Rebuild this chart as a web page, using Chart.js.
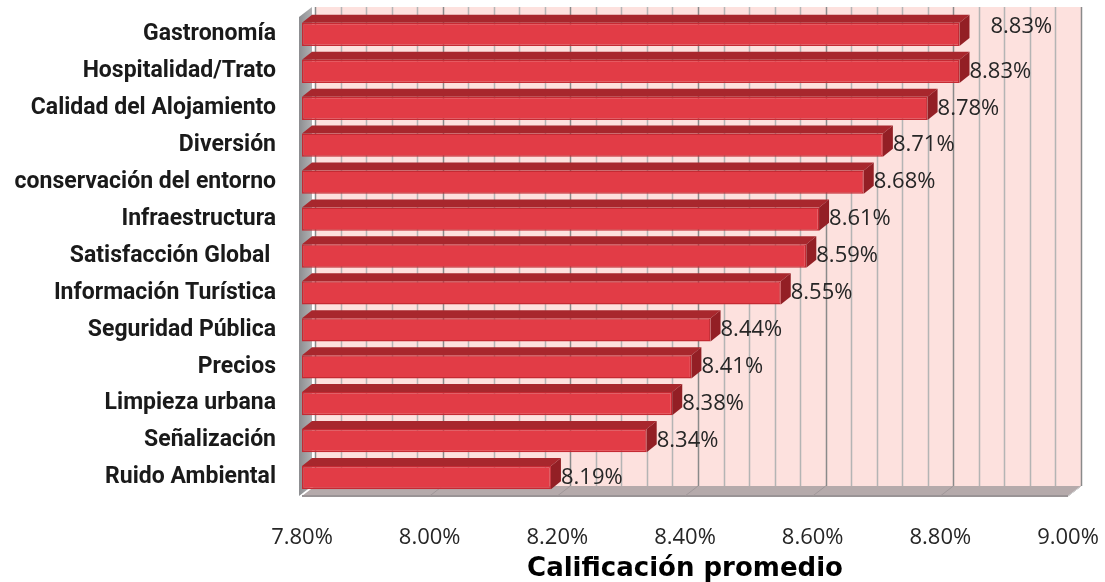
<!DOCTYPE html>
<html>
<head>
<meta charset="utf-8">
<script src="https://cdn.jsdelivr.net/npm/chart.js@4"></script>
<style>
  body { margin: 0; background: #fff; }
  #wrap { width: 1105px; height: 582px; position: relative; }
</style>
</head>
<body>
<div id="wrap"><canvas id="chart"></canvas></div>
<script>
const categories = [
    'Gastronomía', 'Hospitalidad/Trato', 'Calidad del Alojamiento', 'Diversión',
    'conservación del entorno', 'Infraestructura', 'Satisfacción Global ',
    'Información Turística', 'Seguridad Pública', 'Precios', 'Limpieza urbana',
    'Señalización', 'Ruido Ambiental'
];
const scores = [8.83, 8.83, 8.78, 8.71, 8.68, 8.61, 8.59, 8.55, 8.44, 8.41, 8.38, 8.34, 8.19];
const axisMin = 7.8;
const axisMax = 9.0;
const axisStep = 0.2;
const minorStep = 0.04;

// depth of the 3d look
const wallDX = 13, wallDY = -10;
const barDX = 10, barDY = -8;

const depthPlugin = {
    id: 'depth',
    beforeDatasetsDraw(chart) {
        const ctx = chart.ctx;
        const a = chart.chartArea;
        const x = chart.scales.x;
        ctx.save();
        // back wall
        ctx.fillStyle = '#fde1de';
        ctx.fillRect(a.left + wallDX, a.top + wallDY + 1, a.right - a.left, a.bottom - a.top);
        // grid lines on back wall
        for (let v = axisMin; v <= axisMax + 1e-9; v += minorStep) {
            const px = Math.round(x.getPixelForValue(v) + wallDX) + 0.5;
            const major = Math.abs(Math.round(v / axisStep) * axisStep - v) < 1e-6;
            ctx.strokeStyle = major ? '#8a8a8a' : '#b4b4b4';
            ctx.lineWidth = 1.5;
            ctx.beginPath();
            ctx.moveTo(px, a.top + wallDY + 1);
            ctx.lineTo(px, a.bottom + wallDY);
            ctx.stroke();
        }
        // floor
        ctx.fillStyle = '#b5aaab';
        ctx.beginPath();
        ctx.moveTo(a.left, a.bottom);
        ctx.lineTo(a.left + wallDX, a.bottom + wallDY);
        ctx.lineTo(a.right + wallDX, a.bottom + wallDY);
        ctx.lineTo(a.right, a.bottom);
        ctx.closePath();
        ctx.fill();
        ctx.fillStyle = '#9a9496';
        ctx.fillRect(a.left, a.bottom - 1, a.right - a.left, 2);
        ctx.strokeStyle = '#a09799';
        ctx.lineWidth = 1;
        for (let v = axisMin + axisStep; v < axisMax + 1e-9; v += axisStep) {
            const px = x.getPixelForValue(v);
            ctx.beginPath();
            ctx.moveTo(px, a.bottom);
            ctx.lineTo(px + wallDX, a.bottom + wallDY);
            ctx.stroke();
        }
        ctx.strokeStyle = '#d0d0d0';
        ctx.beginPath();
        ctx.moveTo(a.right, a.bottom);
        ctx.lineTo(a.right + wallDX, a.bottom + wallDY);
        ctx.stroke();
        // left wall
        const g = ctx.createLinearGradient(a.left - 3, 0, a.left + wallDX, 0);
        g.addColorStop(0, '#8c8d90');
        g.addColorStop(1, '#b9babc');
        ctx.fillStyle = g;
        ctx.beginPath();
        ctx.moveTo(a.left - 3, a.top + 1);
        ctx.lineTo(a.left - 3 + wallDX, a.top + wallDY + 1);
        ctx.lineTo(a.left - 3 + wallDX, a.bottom + wallDY);
        ctx.lineTo(a.left - 3, a.bottom);
        ctx.closePath();
        ctx.fill();
        ctx.restore();
    },
    afterDatasetsDraw(chart) {
        const ctx = chart.ctx;
        const meta = chart.getDatasetMeta(0);
        const left = chart.scales.x.getPixelForValue(axisMin);
        ctx.save();
        meta.data.forEach(function (bar, i) {
            const top = bar.y - bar.height / 2;
            const bot = bar.y + bar.height / 2;
            const l = left, r = bar.x;
            // top face
            ctx.fillStyle = '#a8272d';
            ctx.beginPath();
            ctx.moveTo(l, top);
            ctx.lineTo(l + barDX, top + barDY);
            ctx.lineTo(r + barDX, top + barDY);
            ctx.lineTo(r, top);
            ctx.closePath();
            ctx.fill();
            // right face
            ctx.fillStyle = '#931f25';
            ctx.beginPath();
            ctx.moveTo(r, top);
            ctx.lineTo(r + barDX, top + barDY);
            ctx.lineTo(r + barDX, bot + barDY);
            ctx.lineTo(r, bot);
            ctx.closePath();
            ctx.fill();
            // value label (the first one was nudged up and right in the original)
            const nudgeX = i === 0 ? 21 : 0;
            const nudgeY = i === 0 ? -8 : 0;
            ctx.fillStyle = '#262626';
            ctx.font = '22px "Open Sans", sans-serif';
            ctx.textAlign = 'left';
            ctx.textBaseline = 'middle';
            ctx.fillText(scores[i].toFixed(2) + '%', r + barDX + nudgeX, bar.y + nudgeY);
        });
        ctx.restore();
    }
};

const ctx = document.getElementById('chart').getContext('2d');
const chart = new Chart(ctx, {
    type: 'bar',
    data: {
        labels: categories,
        datasets: [{
            data: scores,
            base: axisMin,
            backgroundColor: '#e23c46',
            borderColor: '#c52a33',
            borderWidth: 1.5,
            borderSkipped: false,
            categoryPercentage: 1,
            barPercentage: 0.63
        }]
    },
    plugins: [depthPlugin],
    options: {
        indexAxis: 'y',
        responsive: true,
        maintainAspectRatio: false,
        animation: false,
        layout: { padding: { top: 16, right: 37, left: 0, bottom: 0 } },
        plugins: {
            legend: { display: false },
            tooltip: { enabled: false }
        },
        scales: {
            x: {
                min: axisMin,
                max: axisMax,
                grid: { display: false, drawTicks: false },
                border: { display: false },
                ticks: {
                    stepSize: axisStep,
                    padding: 29,
                    color: '#262626',
                    font: { family: '"Open Sans", sans-serif', size: 22 },
                    callback: function (v) { return Number(v).toFixed(2) + '%'; }
                },
                title: {
                    display: true,
                    text: 'Calificación promedio',
                    color: '#000',
                    padding: { top: 0, bottom: 0 },
                    font: { family: '"DejaVu Sans", sans-serif', size: 26, weight: 'bold', lineHeight: 1 }
                },
                afterFit: function (scale) {
                    scale.height = 86;
                    scale.paddingLeft = 0;
                    scale.paddingRight = 0;
                }
            },
            y: {
                grid: { display: false, drawTicks: false },
                border: { display: false },
                ticks: {
                    padding: 26,
                    color: '#1a1a1a',
                    font: { family: 'Roboto, "Liberation Sans", sans-serif', size: 23, weight: 'bold' }
                },
                afterFit: function (scale) {
                    scale.width = 302;
                    scale.paddingTop = 0;
                    scale.paddingBottom = 0;
                }
            }
        }
    }
});
</script>
</body>
</html>
